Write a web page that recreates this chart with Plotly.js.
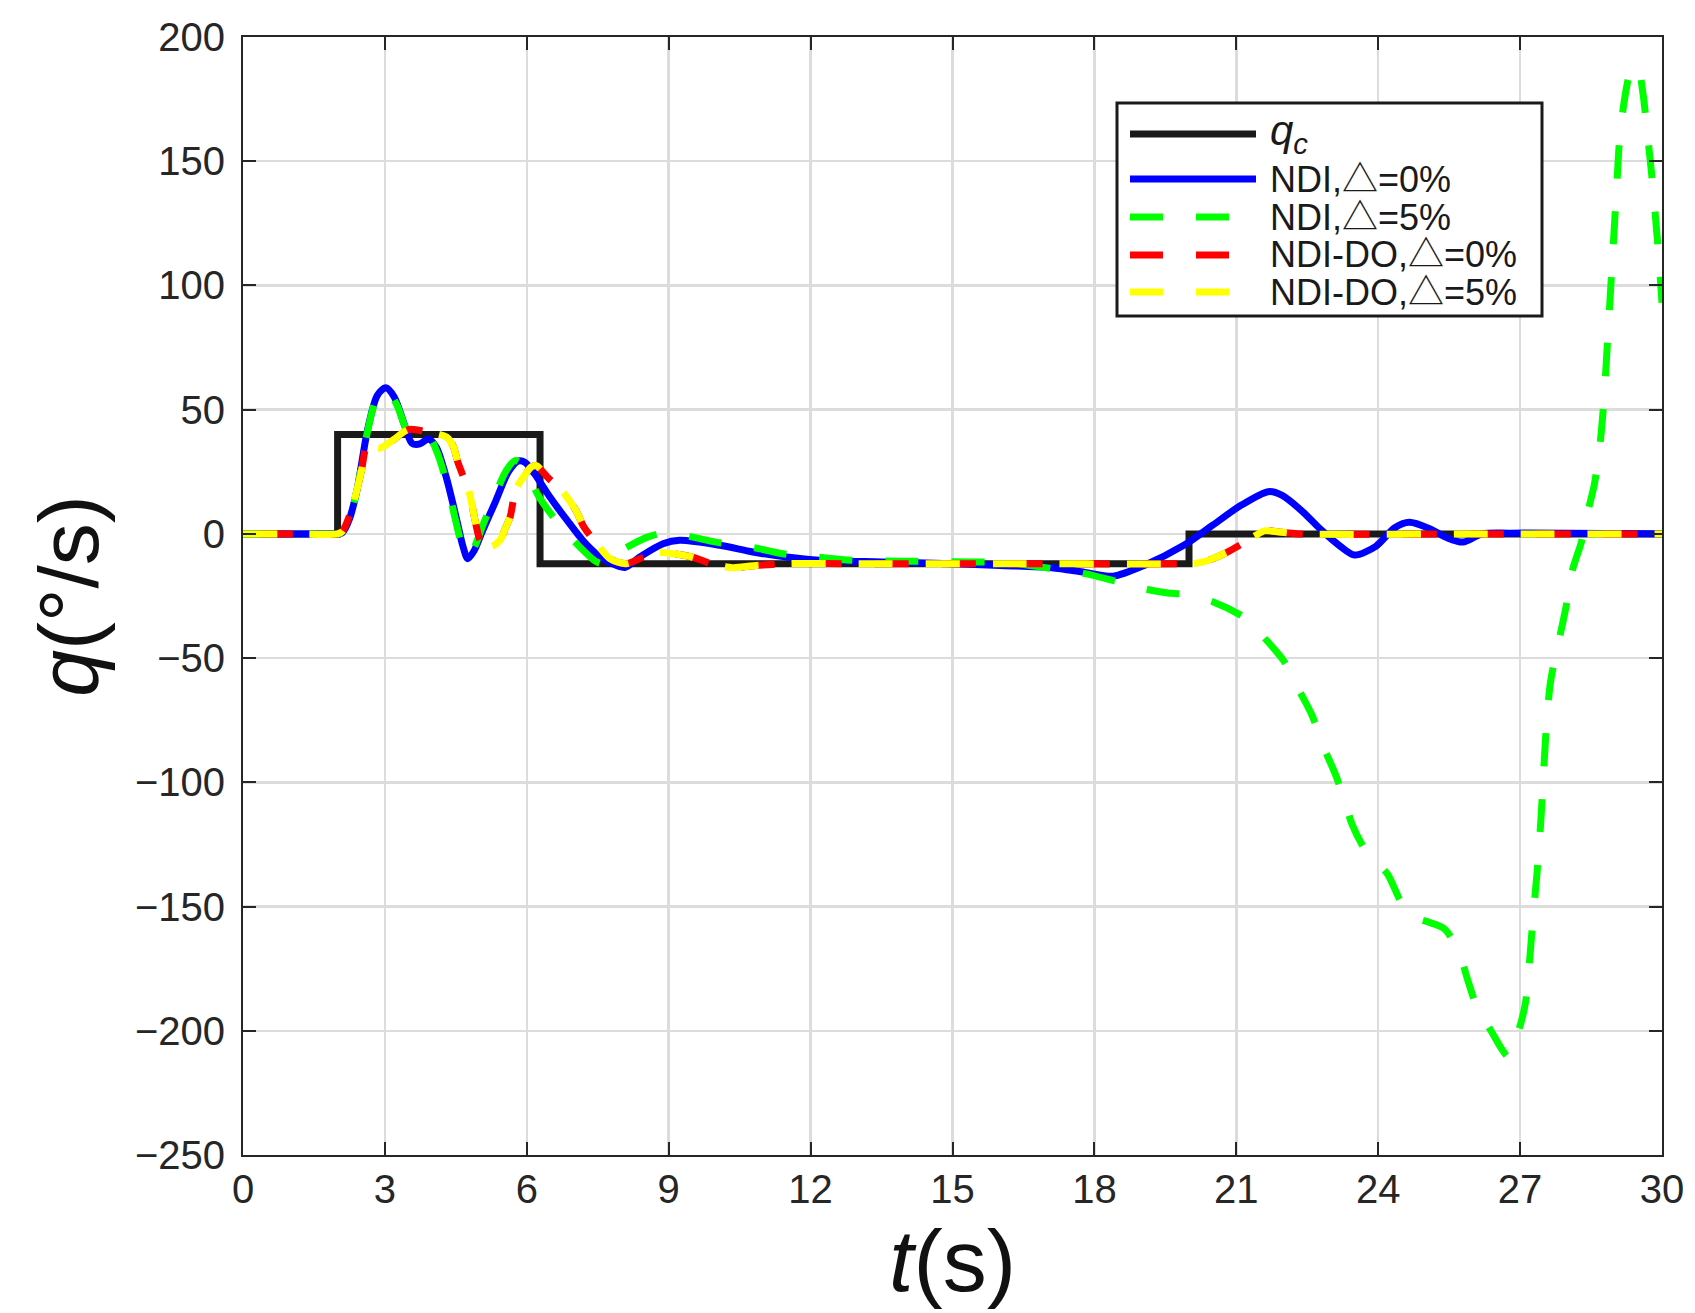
<!DOCTYPE html>
<html>
<head>
<meta charset="utf-8">
<script src="https://cdn.plot.ly/plotly-3.0.1.min.js"></script>
<style>
  body { margin: 0; background: #fff; }
  #chart { width: 1695px; height: 1313px; }
</style>
</head>
<body>
<div id="chart"></div>
<script>
// commanded pitch rate q_c (step input)
var tCmd = [0, 2.0, 2.0, 6.28, 6.28, 20.0, 20.0, 30];
var qCmd = [0, 0, 40, 40, -12, -12, 0, 0];

// NDI, delta = 0%
var tNdi0 = [0, 1.0, 2.0, 2.1, 2.25, 2.42, 2.63, 2.84, 3.02, 3.2,
  3.43, 3.57, 3.74, 3.92, 4.09, 4.3, 4.51, 4.65, 4.75, 4.88,
  5.06, 5.34, 5.62, 5.83, 5.97, 6.17, 6.5, 6.85, 7.2, 7.5,
  7.75, 8.07, 8.39, 8.88, 9.23, 10.08, 10.78, 11.49, 12.19, 13.5,
  15, 16, 17.1, 17.8, 18.4, 19.05, 19.9, 20.5, 21.1, 21.68,
  21.97, 22.4, 22.8, 23.2, 23.5, 23.95, 24.35, 24.66, 25.1, 25.45,
  25.79, 26.2, 26.8, 30];
var qNdi0 = [0, 0, 0, 0.5, 6, 18.6, 41.6, 55.8, 58.8, 55,
  43, 36.5, 36.2, 38.2, 34.8, 22.6, 6.4, -5, -10, -7,
  1, 13.1, 25.3, 29.4, 28.7, 24, 14.5, 5.5, -3, -8.5,
  -11.5, -13.5, -9.3, -4, -2.6, -4.6, -7.3, -9.3, -10.6, -11.3,
  -12, -12.7, -13.6, -15.5, -17, -12.7, -4.5, 3.5, 11.5, 17,
  15.5, 9, 1.5, -5, -8.5, -5, 2.5, 4.7, 2, -1.5,
  -3.3, 0, 0.3, 0];

// NDI, delta = 5%
var tNdi5 = [0, 1.0, 2.0, 2.1, 2.25, 2.42, 2.63, 2.84, 3.05, 3.25,
  3.45, 3.6, 3.8, 3.95, 4.1, 4.3, 4.5, 4.65, 4.75, 4.9,
  5.06, 5.34, 5.55, 5.75, 5.95, 6.24, 6.56, 7.02, 7.48, 7.7,
  7.95, 8.25, 8.55, 8.8, 9.31, 10.0, 10.74, 11.41, 12.12, 12.86,
  14, 15, 16, 16.4, 17.1, 17.8, 18.5, 19.2, 19.55, 19.9,
  20.5, 21.2, 21.6, 22.0, 22.3, 22.6, 22.85, 23.1, 23.3, 23.45,
  23.75, 24.0, 24.2, 24.45, 24.65, 24.85, 25.1, 25.4, 25.7, 25.9,
  26.1, 26.4, 26.6, 26.75, 26.85, 27.0, 27.12, 27.2, 27.28, 27.36,
  27.44, 27.5, 27.56, 27.64, 27.76, 27.9, 28.0, 28.1, 28.3, 28.42,
  28.56, 28.66, 28.74, 28.8, 28.85, 28.9, 28.95, 29.0, 29.05, 29.1,
  29.2, 29.3, 29.4, 29.5, 29.6, 29.68, 29.78, 29.86, 29.93, 30.0];
var qNdi5 = [0, 0, 0, 0.5, 6, 18.6, 41, 55, 57.5, 52,
  42, 38, 38.5, 38.5, 33, 21, 5, -6, -9, -5,
  3, 16, 25, 29.5, 27, 15.5, 6.8, -3.3, -11.3, -12,
  -7.3, -4, -1.3, 0, -0.6, -3.3, -5.3, -8, -9.3, -10.6,
  -11, -11.2, -11.5, -12, -14, -16, -19.3, -22.7, -23.8, -24.3,
  -27.3, -34, -42, -51, -62, -73, -86, -97, -108, -117,
  -128, -133, -137, -147, -153, -155, -156.5, -159, -168, -180,
  -191, -200.5, -207, -210.5, -206, -198, -188, -172, -153, -136,
  -115, -95, -76, -60, -48, -36, -26.5, -15, -3, 8,
  19, 31, 46, 62, 78, 94, 110, 126, 142, 158,
  174, 184, 188.5, 187, 177, 163, 145, 128, 112, 93];

// NDI-DO, delta = 0% and 5% (the two runs lie on top of each other)
var tDo = [0, 1.0, 2.0, 2.1, 2.3, 2.5, 2.63, 2.87, 3.0, 3.19,
  3.5, 3.9, 4.3, 4.45, 4.54, 4.66, 4.78, 4.9, 5.0, 5.12,
  5.27, 5.44, 5.55, 5.65, 5.72, 5.8, 5.95, 6.1, 6.2, 6.45,
  6.8, 7.05, 7.2, 7.5, 7.76, 8.1, 8.45, 8.8, 9.1, 9.49,
  9.9, 10.35, 10.8, 11.5, 13, 16, 20.0, 20.15, 20.4, 20.8,
  21.1, 21.4, 21.6, 21.9, 22.3, 26, 30];
var qDo0 = [0, 0, 0, 1, 10, 25, 35.5, 34.5, 35.5, 38,
  42, 41, 39, 35, 29, 23, 17, 6, -2, -5.5,
  -5, -2.4, 2.5, 7, 14, 19, 23.5, 27, 27.5, 22.6,
  16, 9, 3, -4.5, -10, -12, -9.5, -7.5, -8, -9.3,
  -12, -13.6, -12.8, -12, -12, -12, -12, -11.8, -10.7, -7.4,
  -4.2, -0.7, 1.2, 0.8, 0, 0, 0];
var qDo5 = qDo0.slice();

var seriesNames = ['<i>q</i><sub><i>c</i></sub>', 'NDI,△=0%', 'NDI,△=5%', 'NDI-DO,△=0%', 'NDI-DO,△=5%'];
var seriesColors = ['#1a1a1a', '#0000ff', '#00ff00', '#ff0000', '#ffff00'];

var fontFam = 'Liberation Sans, Arial, Noto Sans CJK SC, sans-serif';
var ink = '#262626';

var traces = [
  { x: tCmd, y: qCmd, name: seriesNames[0],
    mode: 'lines', line: { color: seriesColors[0], width: 7 } },
  { x: tNdi0, y: qNdi0, name: seriesNames[1],
    mode: 'lines', line: { color: seriesColors[1], width: 7, shape: 'spline', smoothing: 0.8 } },
  { x: tNdi5, y: qNdi5, name: seriesNames[2],
    mode: 'lines', line: { color: seriesColors[2], width: 7, dash: '33px,33px', shape: 'spline', smoothing: 0.8 } },
  { x: tDo, y: qDo0, name: seriesNames[3],
    mode: 'lines', line: { color: seriesColors[3], width: 7, dash: '0px,16px,34px,17px', shape: 'spline', smoothing: 0.8 } },
  { x: tDo, y: qDo5, name: seriesNames[4],
    mode: 'lines', line: { color: seriesColors[4], width: 7, dash: '34px,33px', shape: 'spline', smoothing: 0.8 } }
];

// plot box in page pixels, used to place the hand-made legend
var M = { l: 243, r: 33, t: 37, b: 158 };
var W = 1695, H = 1313;
var pw = W - M.l - M.r, ph = H - M.t - M.b;
function px(x) { return (x - M.l) / pw; }
function py(y) { return (H - M.b - y) / ph; }

var legBox = { x0: 1117, x1: 1542, y0: 103, y1: 316 };
var rowY = [134, 179, 217, 255, 292];
var sampleX0 = 1130, sampleX1 = 1256, textX = 1268;
var sampleDash = ['solid', 'solid', '33px,33px', '33px,33px', '33px,33px'];

var shapes = [{
  type: 'rect', xref: 'paper', yref: 'paper', layer: 'above',
  x0: px(legBox.x0), x1: px(legBox.x1), y0: py(legBox.y1), y1: py(legBox.y0),
  fillcolor: '#ffffff', line: { color: '#1a1a1a', width: 3 }
}];
var annotations = [];
for (var i = 0; i < seriesNames.length; i++) {
  shapes.push({
    type: 'line', xref: 'paper', yref: 'paper', layer: 'above',
    x0: px(sampleX0), x1: px(sampleX1), y0: py(rowY[i]), y1: py(rowY[i]),
    line: { color: seriesColors[i], width: 7, dash: sampleDash[i] }
  });
  annotations.push({
    xref: 'paper', yref: 'paper', x: px(textX), y: py(rowY[i]),
    xanchor: 'left', yanchor: 'middle', showarrow: false,
    text: seriesNames[i],
    font: { family: fontFam, size: i === 0 ? 42 : 36, color: '#1a1a1a' }
  });
}

var axisBase = {
  showgrid: true, gridcolor: '#dcdcdc', gridwidth: 2.5,
  zeroline: false,
  showline: true, linecolor: ink, linewidth: 2, mirror: 'allticks',
  ticks: 'inside', ticklen: 13, tickwidth: 2, tickcolor: ink,
  tickfont: { family: fontFam, size: 40, color: ink }
};

var layout = {
  width: W, height: H,
  margin: M,
  paper_bgcolor: '#ffffff', plot_bgcolor: '#ffffff',
  font: { family: fontFam, color: ink },
  showlegend: false,
  xaxis: Object.assign({}, axisBase, {
    range: [0, 30], tick0: 0, dtick: 3, ticklabelstandoff: -2,
    title: { text: '<i>t</i>(s)', font: { family: fontFam, size: 88, color: '#111' }, standoff: 0 }
  }),
  yaxis: Object.assign({}, axisBase, {
    range: [-250, 200], tick0: -250, dtick: 50, ticklabelstandoff: 8,
    title: { text: '<i>q</i>(°/s)', font: { family: fontFam, size: 84, color: '#111' }, standoff: 8 }
  }),
  shapes: shapes,
  annotations: annotations
};

Plotly.newPlot('chart', traces, layout, { displayModeBar: false, staticPlot: true });
</script>
</body>
</html>
